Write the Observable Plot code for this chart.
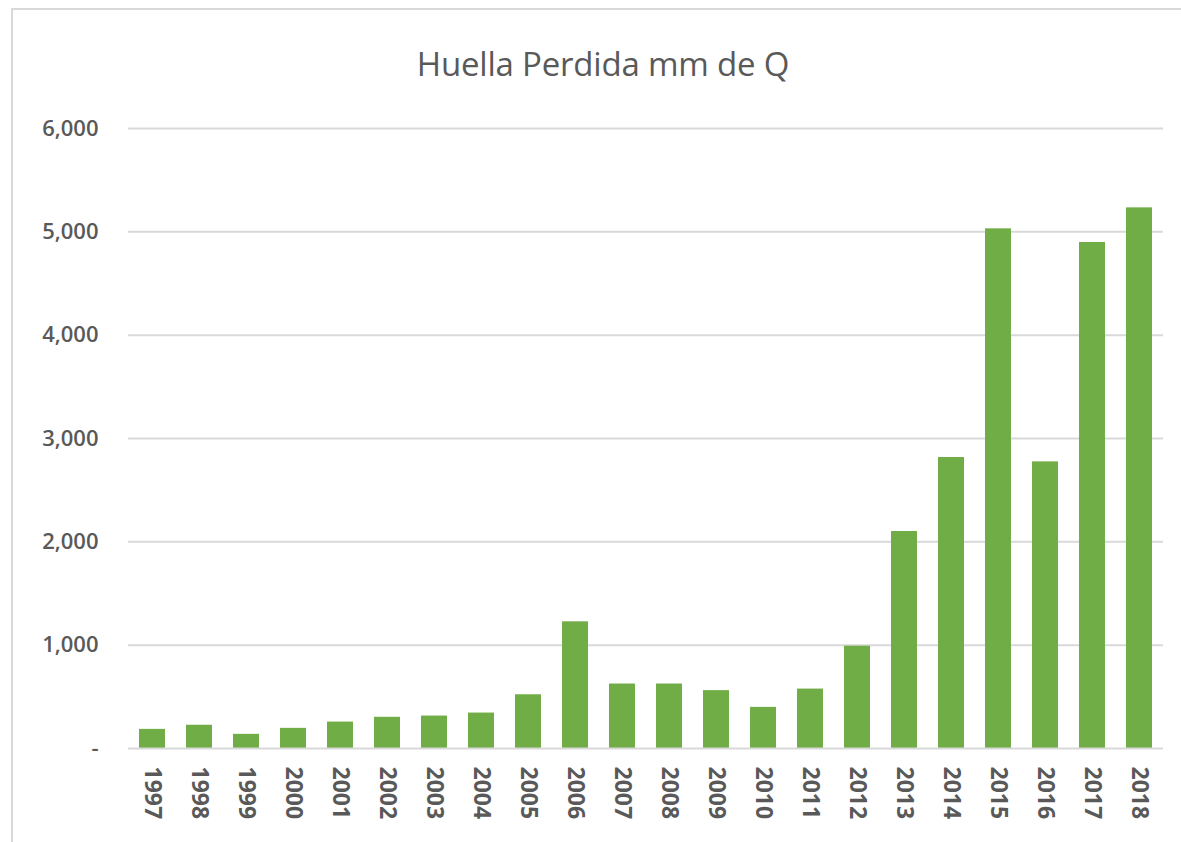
<!DOCTYPE html>
<html>
<head>
<meta charset="utf-8">
<script src="https://cdn.jsdelivr.net/npm/d3@7"></script>
<script src="https://cdn.jsdelivr.net/npm/@observablehq/plot@0.6"></script>
<style>
  html, body { margin: 0; padding: 0; background: #fff; }
  #wrap { position: relative; width: 1181px; height: 842px; overflow: hidden; font-family: "Open Sans", sans-serif; }
  #frame { position: absolute; left: 11px; top: 8px; width: 1200px; height: 900px; border: 2px solid #d9d9d9; box-sizing: border-box; }
  #title { position: absolute; left: 0; top: 41px; width: 1206px; text-align: center; font-size: 33px; color: #595959; font-weight: 400; letter-spacing: -0.2px; }
  #chart { position: absolute; left: 0; top: 0; }
</style>
</head>
<body>
<div id="wrap">
  <div id="frame"></div>
  <div id="chart"></div>
  <div id="title">Huella Perdida mm de Q</div>
</div>
<script>
const years = ["1997","1998","1999","2000","2001","2002","2003","2004","2005","2006","2007","2008","2009","2010","2011","2012","2013","2014","2015","2016","2017","2018"];
const values = [185, 225, 137, 195, 256, 302, 314, 343, 520, 1226, 624, 624, 560, 398, 575, 990, 2100, 2816, 5029, 2774, 4897, 5232];
const yTicks = [0, 1000, 2000, 3000, 4000, 5000, 6000];

const data = years.map((y, i) => ({year: y, value: values[i]}));
const fmt = d3.format(",");

const chart = Plot.plot({
  width: 1181,
  height: 842,
  marginLeft: 128,
  marginRight: 18,
  marginTop: 128,
  marginBottom: 94,
  style: {fontFamily: "Open Sans, sans-serif", background: "transparent"},
  x: {domain: years, paddingInner: 0.45, paddingOuter: 0.225, label: null},
  y: {domain: [0, 6000], label: null},
  marks: [
    Plot.gridY(yTicks.filter(d => d > 0), {stroke: "#d9d9d9", strokeWidth: 2, strokeOpacity: 1}),
    Plot.barY(data, {x: "year", y: "value", fill: "#70AD47"}),
    Plot.ruleY([0], {stroke: "#d9d9d9", strokeWidth: 2}),
    Plot.axisY(yTicks, {tickSize: 0, tickPadding: 30, tickFormat: d => d === 0 ? "-" : fmt(d), fontSize: 22, fontWeight: 600, fill: "#595959", label: null}),
    Plot.axisX({tickSize: 0, tickPadding: 18, tickRotate: 90, fontSize: 23, fontWeight: 700, fill: "#595959", label: null})
  ]
});
document.getElementById("chart").appendChild(chart);
</script>
</body>
</html>
